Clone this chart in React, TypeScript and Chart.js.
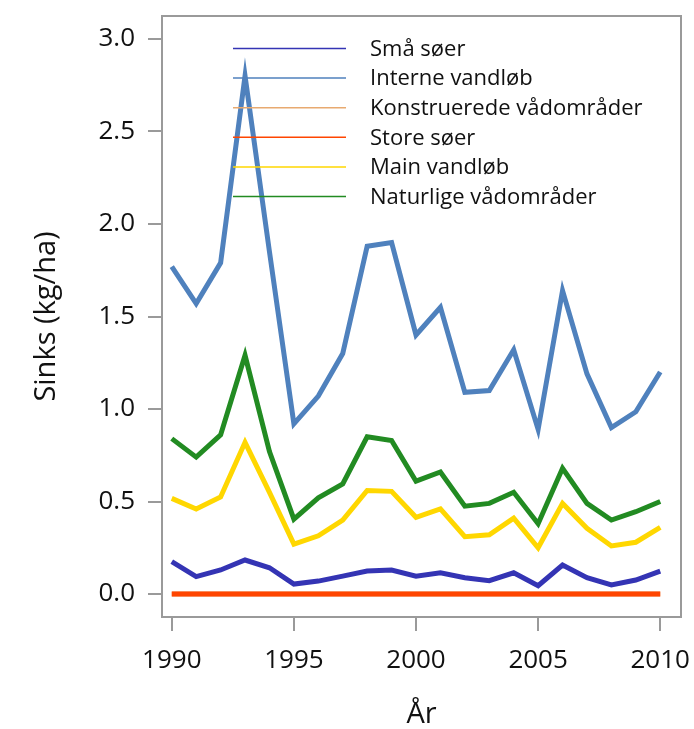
import React, { useEffect, useRef } from "react";
import { Chart, registerables } from "chart.js";

Chart.register(...registerables);

const years = [1990, 1991, 1992, 1993, 1994, 1995, 1996, 1997, 1998, 1999, 2000, 2001, 2002, 2003, 2004, 2005, 2006, 2007, 2008, 2009, 2010];

const smaSoer = [0.175, 0.094, 0.13, 0.184, 0.142, 0.054, 0.07, 0.097, 0.124, 0.13, 0.097, 0.115, 0.088, 0.072, 0.115, 0.045, 0.157, 0.088, 0.049, 0.076, 0.124];
const interneVandlob = [1.77, 1.57, 1.79, 2.8, 1.85, 0.92, 1.07, 1.3, 1.88, 1.9, 1.4, 1.55, 1.09, 1.1, 1.32, 0.89, 1.64, 1.19, 0.9, 0.985, 1.2];
const konstrueredeVadomrader = [0, 0, 0, 0, 0, 0, 0, 0, 0, 0, 0, 0, 0, 0, 0, 0, 0, 0, 0, 0, 0];
const storeSoer = [0, 0, 0, 0, 0, 0, 0, 0, 0, 0, 0, 0, 0, 0, 0, 0, 0, 0, 0, 0, 0];
const mainVandlob = [0.517, 0.46, 0.525, 0.82, 0.55, 0.27, 0.315, 0.4, 0.56, 0.555, 0.415, 0.46, 0.31, 0.32, 0.41, 0.25, 0.49, 0.355, 0.26, 0.28, 0.36];
const naturligeVadomrader = [0.84, 0.74, 0.86, 1.29, 0.77, 0.405, 0.52, 0.595, 0.85, 0.83, 0.61, 0.66, 0.475, 0.49, 0.55, 0.38, 0.68, 0.49, 0.4, 0.445, 0.5];

const seriesLabels = ["Små søer", "Interne vandløb", "Konstruerede vådområder", "Store søer", "Main vandløb", "Naturlige vådområder"];
const seriesValues = [smaSoer, interneVandlob, konstrueredeVadomrader, storeSoer, mainVandlob, naturligeVadomrader];
const seriesColors = ["#3434b4", "#4f81bd", "#e8aa70", "#ff4500", "#ffd700", "#228b22"];
const seriesOrder = [0, 0, 1, 0, 0, 0];

const xTicks = [1990, 1995, 2000, 2005, 2010];
const yTicks = [0, 0.5, 1.0, 1.5, 2.0, 2.5, 3.0];

const FONT = "'Open Sans', 'Noto Sans', sans-serif";
const AXIS_GRAY = "#9a9a9a";

const boxAndLegend = {
  id: "boxAndLegend",
  afterDatasetsDraw(chart: any) {
    const { ctx, chartArea } = chart;
    ctx.save();
    const lx0 = chartArea.left + 71;
    const lx1 = chartArea.left + 184;
    const tx = chartArea.left + 208;
    const y0 = chartArea.top + 32.5;
    const dy = 29.6;
    chart.data.datasets.forEach((ds: any, i: number) => {
      const y = y0 + i * dy;
      ctx.strokeStyle = ds.borderColor;
      ctx.lineWidth = 1.5;
      ctx.beginPath();
      ctx.moveTo(lx0, y);
      ctx.lineTo(lx1, y);
      ctx.stroke();
      ctx.fillStyle = "#111";
      ctx.font = `22px ${FONT}`;
      ctx.textAlign = "left";
      ctx.textBaseline = "middle";
      ctx.fillText(ds.label, tx, y + 1);
    });
    ctx.restore();
  },
  afterDraw(chart: any) {
    const { ctx, chartArea } = chart;
    ctx.save();
    ctx.strokeStyle = AXIS_GRAY;
    ctx.lineWidth = 2;
    ctx.strokeRect(chartArea.left, chartArea.top, chartArea.right - chartArea.left, chartArea.bottom - chartArea.top);
    ctx.restore();
  },
};

const zeroPad = (scale: any) => {
  scale.paddingTop = 0;
  scale.paddingBottom = 0;
  scale.paddingLeft = 0;
  scale.paddingRight = 0;
};

export default function App() {
  const ref = useRef<HTMLCanvasElement | null>(null);

  useEffect(() => {
    if (!ref.current) return;
    const datasets = seriesLabels.map((label, i) => ({
      label,
      data: years.map((yr, j) => ({ x: yr, y: seriesValues[i][j] })),
      borderColor: seriesColors[i],
      backgroundColor: seriesColors[i],
      borderWidth: 5,
      pointRadius: 0,
      tension: 0,
      fill: false,
      order: seriesOrder[i],
    }));

    const chart = new Chart(ref.current, {
      type: "line",
      data: { datasets },
      plugins: [boxAndLegend],
      options: {
        animation: false,
        responsive: false,
        layout: { padding: { top: 16, right: 13, left: 0, bottom: 0 } },
        plugins: { legend: { display: false }, tooltip: { enabled: false } },
        scales: {
          x: {
            type: "linear",
            min: 1989.6,
            max: 2010.85,
            afterBuildTicks: (scale: any) => {
              scale.ticks = xTicks.map((v) => ({ value: v }));
            },
            afterFit: (scale: any) => {
              scale.height = 112;
              zeroPad(scale);
            },
            border: { display: false },
            grid: { drawOnChartArea: false, drawTicks: true, tickLength: 14, color: AXIS_GRAY, lineWidth: 2 },
            ticks: {
              color: "#111",
              font: { family: FONT, size: 26 },
              padding: 14,
              maxRotation: 0,
              autoSkip: false,
              callback: (v: any) => String(v),
            },
            title: {
              display: true,
              text: "År",
              color: "#111",
              font: { family: FONT, size: 29, lineHeight: 1.0 },
              padding: { top: 0, bottom: 0 },
            },
          },
          y: {
            type: "linear",
            min: -0.124,
            max: 3.124,
            afterBuildTicks: (scale: any) => {
              scale.ticks = yTicks.map((v) => ({ value: v }));
            },
            afterFit: (scale: any) => {
              scale.width = 162;
              zeroPad(scale);
            },
            border: { display: false },
            grid: { drawOnChartArea: false, drawTicks: true, tickLength: 14, color: AXIS_GRAY, lineWidth: 2 },
            ticks: {
              color: "#111",
              font: { family: FONT, size: 26 },
              padding: 13,
              autoSkip: false,
              callback: (v: any) => Number(v).toFixed(1),
            },
            title: {
              display: true,
              text: "Sinks (kg/ha)",
              color: "#111",
              font: { family: FONT, size: 29 },
              padding: { top: 29, bottom: 0 },
            },
          },
        },
      },
    });
    return () => chart.destroy();
  }, []);

  return (
    <div style={{ position: "absolute", left: 0, top: 0, width: 694, height: 729, background: "#fff" }}>
      <canvas ref={ref} width={694} height={729} style={{ display: "block" }} />
    </div>
  );
}
